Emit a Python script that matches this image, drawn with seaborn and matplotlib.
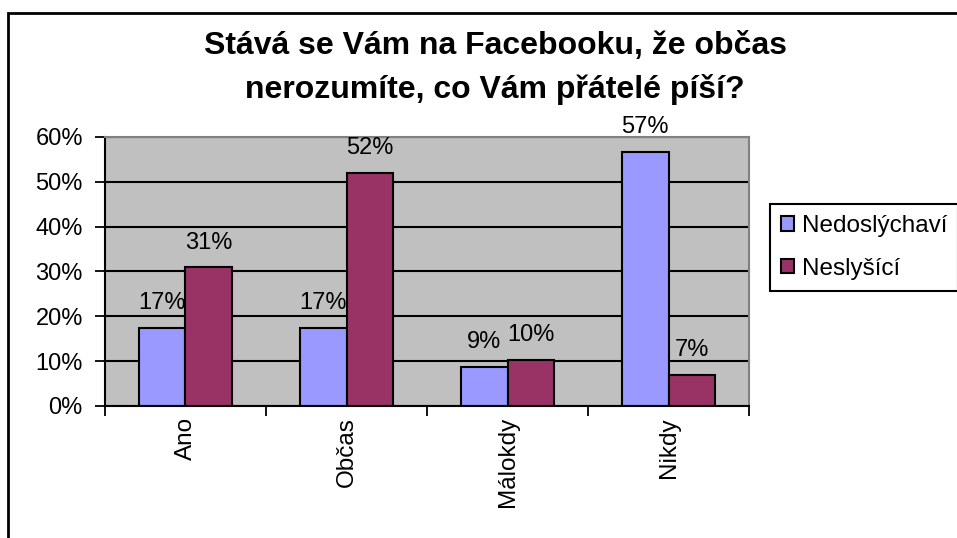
import pandas as pd
import matplotlib.pyplot as plt
import seaborn as sns
from matplotlib.patches import Rectangle
from matplotlib.ticker import PercentFormatter, FixedLocator

# Data (share of respondents)
kategorie = ['Ano', 'Občas', 'Málokdy', 'Nikdy']
nedoslychavi = [0.174, 0.174, 0.087, 0.566]
neslysici = [0.309, 0.519, 0.103, 0.069]
skupiny = ['Nedoslýchaví', 'Neslyšící']
barvy = ['#9999FF', '#993366']

df = pd.DataFrame({
    'kategorie': kategorie * 2,
    'podil': nedoslychavi + neslysici,
    'skupina': [skupiny[0]] * 4 + [skupiny[1]] * 4,
})

plt.rcParams['font.family'] = ['Liberation Sans', 'DejaVu Sans']

fig = plt.figure(figsize=(9.57, 5.38), dpi=100)
ax = fig.add_axes([0.1097, 0.2454, 0.673, 0.5])

sns.barplot(data=df, x='kategorie', y='podil', hue='skupina', palette=barvy,
            width=0.58, edgecolor='black', linewidth=1.5, saturation=1, ax=ax)

ax.set_facecolor('#C0C0C0')
ax.set_ylim(0, 0.6)
ax.set_xlim(-0.5, 3.5)
ax.set_yticks([0, 0.1, 0.2, 0.3, 0.4, 0.5, 0.6])
ax.yaxis.set_major_formatter(PercentFormatter(1, decimals=0))
ax.grid(axis='y', color='black', linewidth=1.5)
ax.set_axisbelow(True)
ax.set_xlabel('')
ax.set_ylabel('')

# ticks between categories, labels at the centres
ax.xaxis.set_major_locator(FixedLocator([-0.5, 0.5, 1.5, 2.5, 3.5]))
ax.xaxis.set_minor_locator(FixedLocator([0, 1, 2, 3]))
ax.set_xticklabels([])
ax.set_xticklabels(kategorie, minor=True, rotation=90, fontsize=17.5)
ax.tick_params(axis='x', which='major', length=7, width=1.3, direction='out', color='black', bottom=True)
ax.tick_params(axis='x', which='minor', length=0, pad=8)
ax.tick_params(axis='y', length=7, width=1.3, direction='out', color='black', left=True, labelsize=17, pad=9)

for s in ['left', 'bottom']:
    ax.spines[s].set_color('black')
    ax.spines[s].set_linewidth(1.5)
for s in ['top', 'right']:
    ax.spines[s].set_color('#808080')
    ax.spines[s].set_linewidth(1.5)

for cont in ax.containers:
    ax.bar_label(cont, labels=[f'{v * 100:.0f}%' for v in cont.datavalues],
                 padding=10, fontsize=17, clip_on=False)

handles, labels = ax.get_legend_handles_labels()
ax.get_legend().remove()
leg = fig.legend(handles, labels, loc='upper left', bbox_to_anchor=(770 / 957, 1 - 204 / 538),
                 borderaxespad=0, fontsize=17.5, frameon=True, fancybox=False, edgecolor='black',
                 framealpha=1, handlelength=0.55, handleheight=0.55, handletextpad=0.3,
                 borderpad=0.45, labelspacing=0.85)
leg.get_frame().set_linewidth(1.5)

fig.text(495 / 957, 1 - 68 / 538,
         'Stává se Vám na Facebooku, že občas\nnerozumíte, co Vám přátelé píší?',
         ha='center', va='center', fontsize=23, fontweight='bold', linespacing=1.55)

fig.patches.append(Rectangle((8 / 957, -0.2), 1.2, 1.2 - 13 / 538,
                             transform=fig.transFigure, fill=False,
                             edgecolor='black', linewidth=2))

fig.savefig('out.png', dpi=100)
